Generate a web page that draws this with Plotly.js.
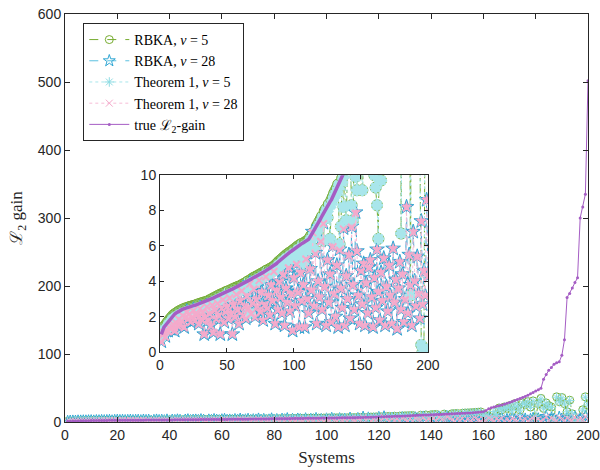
<!DOCTYPE html>
<html>
<head>
<meta charset="utf-8">
<script src="https://cdn.plot.ly/plotly-3.0.1.min.js"></script>
<style>html,body{margin:0;padding:0;background:#fff;}#chart{width:600px;height:470px;}</style>
</head>
<body>
<div id="chart"></div>
<script>
// Systems index 1..200
const systems = Array.from({length: 200}, (_, i) => i + 1);

// true L2-gain
const trueGain = [
1.0,1.25,1.4,1.5,1.6,1.72,1.82,1.92,2.0,2.1,
2.15,2.2,2.26,2.3,2.35,2.38,2.42,2.45,2.48,2.5,
2.53,2.56,2.58,2.6,2.62,2.64,2.67,2.7,2.72,2.75,
2.77,2.8,2.82,2.84,2.86,2.9,2.94,2.98,3.02,3.06,
3.1,3.14,3.18,3.22,3.26,3.29,3.32,3.36,3.4,3.43,
3.46,3.5,3.53,3.56,3.6,3.63,3.66,3.7,3.72,3.75,
3.8,3.84,3.88,3.93,3.98,4.03,4.08,4.12,4.17,4.22,
4.25,4.29,4.33,4.38,4.42,4.46,4.5,4.55,4.6,4.64,
4.68,4.72,4.76,4.8,4.85,4.92,5.0,5.08,5.15,5.22,
5.28,5.35,5.42,5.48,5.55,5.6,5.65,5.7,5.76,5.82,
5.88,5.94,6.0,6.05,6.1,6.14,6.18,6.22,6.26,6.3,
6.38,6.5,6.62,6.75,6.88,7.0,7.12,7.25,7.4,7.55,
7.7,7.85,8.0,8.12,8.25,8.38,8.5,8.62,8.8,9.0,
9.15,9.3,9.5,9.7,9.85,10.0,10.15,10.3,10.45,10.6,
10.75,10.9,11.05,11.2,11.4,11.6,11.8,12.0,12.2,12.4,
12.6,12.8,13.0,13.2,13.4,13.6,13.9,14.2,14.6,15.0,
17.0,19.5,21.0,22.0,23.0,24.0,25.0,26.2,27.5,28.8,
30.0,31.5,33.0,34.5,36.0,37.5,39.5,41.5,43.5,45.5,
47.5,49.5,63,70,76,80,85,87,88.5,98,
121,183,189,197,205,212,300,316,335,502];

// RBKA, nu = 5
const rbka5 = [
1.0,1.22,1.38,1.5,1.6,1.7,1.8,1.9,1.98,2.08,
2.13,2.18,2.24,2.28,2.33,2.36,2.4,2.43,2.46,2.48,
2.51,2.54,2.56,2.58,2.6,2.62,2.65,2.68,2.7,2.73,
2.75,2.78,2.8,2.82,2.84,2.88,2.92,2.96,3.0,3.04,
3.08,3.12,3.16,3.2,3.24,3.27,3.3,3.34,3.38,3.41,
3.44,3.15,3.51,3.54,3.58,3.61,3.64,3.68,3.7,3.73,
3.78,3.82,3.86,3.91,3.96,4.01,2.2,4.1,4.15,4.2,
4.23,4.27,4.31,4.36,4.4,4.44,4.48,4.53,4.58,4.62,
4.55,4.7,4.74,4.78,4.83,4.9,4.98,5.06,5.13,5.2,
5.26,5.33,5.4,5.46,5.53,5.58,5.63,5.68,5.74,5.8,
5.86,5.92,5.98,6.03,6.08,6.12,5.0,6.2,6.24,6.28,
6.36,6.48,6.6,6.73,5.85,6.8,7.1,7.23,7.38,7.53,
7.68,6.3,7.98,8.1,7.6,8.36,6.4,8.6,8.78,8.98,
9.13,9.28,9.48,6.1,7.1,9.83,8.2,10.28,7.45,10.58,
10.85,11.0,8.3,7.45,11.5,9.9,9.15,12.1,12.3,12.5,
9.15,12.9,13.1,13.3,13.5,13.7,14.0,14.3,14.7,10.0,
9.3,8.3,6.4,16.0,9.7,20.5,18.0,22.0,20.0,24.0,
17.0,27.0,23.0,18.0,28.0,26.0,30.0,22.0,31.0,6.7,
27.0,34.7,20.0,28.0,24.0,22.0,3.2,37.0,30.0,36.0,
27.0,15.0,32.0,12.0,0.4,0.0,0.2,18.0,37.0,25.0];

// RBKA, nu = 28
const rbka28 = [
0.6,1.0,1.1,0.9,1.3,1.2,1.4,1.3,1.5,1.6,
1.2,1.7,1.5,1.9,1.6,1.8,2.1,1.4,2.0,2.3,
1.9,2.2,1.7,2.0,2.4,1.8,2.1,2.2,1.6,2.5,
1.9,2.3,1.0,2.0,2.6,1.8,2.2,1.5,2.7,1.1,
2.4,1.9,2.8,2.1,1.0,2.5,3.0,1.7,2.3,2.6,
1.9,3.1,2.2,1.0,2.7,2.0,3.3,2.4,1.6,2.9,
3.5,2.1,2.6,1.9,3.2,2.5,3.9,2.2,2.8,3.6,
2.0,3.0,2.6,4.1,2.3,3.4,1.8,2.7,4.3,2.5,
3.2,2.1,3.8,2.9,4.6,1.6,3.5,2.4,4.0,3.1,
2.2,4.4,1.5,3.6,2.8,4.8,2.3,3.3,1.2,4.2,
2.6,5.0,3.4,1.4,4.5,2.9,3.8,1.4,5.3,3.0,
2.2,4.7,3.5,6.8,2.6,5.6,1.6,4.0,3.1,6.3,
2.4,7.3,3.7,1.5,5.2,2.8,4.4,1.7,6.0,3.3,
2.0,4.9,1.4,5.8,3.6,2.5,7.0,1.5,4.3,3.0,
5.5,1.9,7.1,3.8,2.4,7.9,5.7,3.2,1.6,4.6,
2.7,5.0,1.5,3.9,2.2,4.8,5.2,3.1,1.4,4.2,
2.5,5.8,3.4,1.8,4.5,2.9,5.3,1.5,3.7,2.3,
4.9,3.2,1.6,5.85,2.8,4.1,1.3,3.6,5.1,2.4,
4.4,1.7,3.0,8.2,2.2,5.5,3.8,1.5,6.8,4.0,
2.6,5.4,3.3,1.9,7.4,2.7,4.6,3.2,8.6,4.3];

// Theorem 1, nu = 5
const thm5 = [
0.85,1.0,1.15,1.25,1.35,1.47,1.57,1.67,1.75,1.85,
1.9,1.95,2.01,2.05,2.1,2.13,2.17,2.2,2.23,2.25,
2.28,2.31,2.33,2.35,2.37,2.39,2.42,2.45,2.47,2.5,
2.52,2.55,2.57,2.59,2.61,2.65,2.69,2.73,2.77,2.81,
2.85,2.89,2.93,2.97,3.01,3.04,3.07,3.11,3.15,3.18,
3.21,3.15,3.28,3.31,3.35,3.38,3.41,3.45,3.47,3.5,
3.55,3.59,3.63,3.68,3.73,3.78,2.2,3.87,3.92,3.97,
4.0,4.04,4.08,4.13,4.17,4.21,4.25,4.3,4.35,4.39,
4.43,4.47,4.51,4.55,4.6,4.67,4.75,4.83,4.9,4.97,
5.03,5.1,5.17,5.23,5.3,5.2,5.4,5.45,5.3,5.57,
5.6,5.5,5.75,5.8,5.6,5.89,5.0,5.97,5.7,6.05,
6.13,6.25,6.37,6.5,5.85,6.75,6.87,7.0,7.15,7.3,
7.45,6.3,7.75,7.87,7.6,8.13,6.4,8.37,8.55,8.75,
8.9,9.05,9.25,6.1,7.1,9.6,8.2,10.05,7.45,10.35,
10.5,10.65,8.3,7.45,11.15,9.9,9.15,11.75,11.95,12.15,
9.15,12.55,12.75,12.95,13.15,13.35,13.65,13.95,14.35,10.0,
9.3,8.3,6.4,15.5,9.7,20.0,17.5,21.5,19.5,23.5,
16.5,26.5,22.5,17.5,27.5,25.5,29.5,21.5,30.5,6.7,
26.5,34.0,19.5,27.5,23.5,21.5,3.2,36.5,29.5,35.5,
26.5,15.0,31.5,11.5,0.4,0.0,0.2,17.5,36.5,25.0];

// Theorem 1, nu = 28
const thm28 = [
0.55,0.95,1.1,0.85,1.25,1.15,1.35,1.3,1.45,1.55,
1.2,1.65,1.5,1.85,1.55,1.75,2.05,1.4,1.95,2.25,
1.85,2.15,1.7,1.95,2.35,1.75,2.05,2.15,1.55,2.45,
1.85,2.25,1.0,1.95,2.55,1.75,2.15,1.45,2.65,1.1,
2.35,1.85,2.75,2.05,1.0,2.45,2.95,1.65,2.25,2.55,
1.85,3.05,2.15,1.0,2.65,1.95,3.25,2.35,1.55,2.85,
3.45,2.05,2.55,1.85,3.15,2.45,3.85,2.15,2.75,3.55,
1.95,2.95,2.55,4.05,2.25,3.35,1.75,2.65,4.25,2.45,
3.15,2.05,3.75,2.85,4.55,1.55,3.45,2.35,3.95,3.05,
2.15,4.35,1.45,3.55,2.75,4.75,2.25,3.25,1.2,4.15,
2.55,4.95,3.35,1.4,4.45,2.85,3.75,1.4,5.25,2.95,
2.15,4.65,3.45,6.75,2.55,5.55,1.55,3.95,3.05,6.25,
2.35,7.25,3.65,1.45,5.15,2.75,4.35,1.65,5.95,3.25,
1.95,4.85,1.4,5.75,3.55,2.45,6.95,1.45,4.25,2.95,
5.45,1.85,7.05,3.75,2.35,7.85,5.65,3.15,1.55,4.55,
2.65,4.95,1.45,3.85,2.15,4.75,5.15,3.05,1.4,4.15,
2.45,5.75,3.35,1.75,4.45,2.85,5.25,1.45,3.65,2.25,
4.85,3.15,1.55,5.8,2.75,4.05,1.3,3.55,5.05,2.35,
4.35,1.65,2.95,8.15,2.15,5.45,3.75,1.45,6.75,3.95,
2.55,5.35,3.25,1.85,7.35,2.65,4.55,3.15,8.55,4.25];

const names = ['RBKA, <i>ν</i> = 5', 'RBKA, <i>ν</i> = 28', 'Theorem 1, <i>ν</i> = 5', 'Theorem 1, <i>ν</i> = 28', 'true ℒ<sub>2</sub>-gain'];

const GREEN = '#77AC30', BLUE = '#2FA6D3', BLUEL = '#5BC0E0', CYAN = '#8EDCE3', CYANL = '#A9E6EB', PINK = '#F4AACB', PINKL = '#F7BCD6', PURPLE = '#A55DC4';

const traces = [
  // main axes
  {x: systems, y: rbka5, name: names[0], mode: 'lines+markers', line: {color: GREEN, dash: 'dash', width: 1}, marker: {symbol: 'circle-open', size: 8, color: GREEN, line: {width: 1}}},
  {x: systems, y: rbka28, name: names[1], mode: 'lines+markers', line: {color: BLUEL, dash: 'dash', width: 1}, marker: {symbol: 'star-open', size: 9, color: BLUE, line: {width: 1}}},
  {x: systems, y: thm5, name: names[2], mode: 'lines+markers', line: {color: CYANL, dash: 'dot', width: 1}, marker: {symbol: 'asterisk-open', size: 8, color: CYAN, line: {width: 1}}},
  {x: systems, y: thm28, name: names[3], mode: 'lines+markers', line: {color: PINKL, dash: 'dot', width: 1}, marker: {symbol: 'x-thin-open', size: 7, color: PINK, line: {width: 1}}},
  {x: systems, y: trueGain, name: names[4], mode: 'lines+markers', line: {color: PURPLE, width: 1}, marker: {symbol: 'circle', size: 3, color: PURPLE}},
  // inset
  {x: systems, y: rbka5, xaxis: 'x2', yaxis: 'y2', showlegend: false, mode: 'lines+markers', line: {color: GREEN, dash: 'dashdot', width: 1}, marker: {symbol: 'circle', size: 11, color: CYANL, line: {color: GREEN, width: 1}}},
  {x: systems, y: rbka28, xaxis: 'x2', yaxis: 'y2', showlegend: false, mode: 'lines+markers', line: {color: BLUE, dash: 'dash', width: 1}, marker: {symbol: 'star', size: 11, color: PINK, line: {color: BLUE, width: 1}}},
  {x: systems, y: thm5, xaxis: 'x2', yaxis: 'y2', showlegend: false, mode: 'lines+markers', line: {color: CYANL, dash: 'dot', width: 1}, marker: {symbol: 'asterisk-open', size: 10, color: CYANL, line: {width: 3}}},
  {x: systems, y: thm28, xaxis: 'x2', yaxis: 'y2', showlegend: false, mode: 'lines+markers', line: {color: PINKL, dash: 'dot', width: 1}, marker: {symbol: 'x-thin-open', size: 7, color: PINK, line: {width: 2}}},
  {x: systems, y: trueGain, xaxis: 'x2', yaxis: 'y2', showlegend: false, mode: 'lines', line: {color: PURPLE, width: 3.5}}
];

const axCol = '#262626';
const tickFont = {family: 'Liberation Sans, Arial, sans-serif', size: 14, color: axCol};
const layout = {
  width: 600, height: 470,
  margin: {l: 65, r: 12, t: 14, b: 48},
  paper_bgcolor: '#fff', plot_bgcolor: '#fff',
  showlegend: true,
  xaxis: {range: [0, 200], dtick: 20, tick0: 0, ticks: 'inside', ticklen: 5, tickcolor: axCol, showline: true, linecolor: axCol, linewidth: 1, mirror: 'ticks', showgrid: false, zeroline: false, tickfont: tickFont, domain: [0, 1],
    title: {text: 'Systems', font: {family: 'Liberation Serif, serif', size: 17, color: axCol}, standoff: 9}},
  yaxis: {range: [0, 600], dtick: 100, tick0: 0, ticks: 'inside', ticklen: 5, tickcolor: axCol, showline: true, linecolor: axCol, linewidth: 1, mirror: 'ticks', showgrid: false, zeroline: false, tickfont: tickFont, domain: [0, 1],
    title: {text: 'ℒ<sub>2</sub> gain', font: {family: 'Liberation Serif, serif', size: 17, color: axCol}, standoff: 10}},
  xaxis2: {anchor: 'y2', domain: [0.1816, 0.694], range: [0, 200], dtick: 50, tick0: 0, ticks: 'inside', ticklen: 4, tickcolor: axCol, showline: true, linecolor: axCol, linewidth: 1, mirror: 'ticks', showgrid: false, zeroline: false, tickfont: tickFont},
  yaxis2: {anchor: 'x2', domain: [0.1716, 0.605], range: [0, 10], dtick: 2, tick0: 0, ticks: 'inside', ticklen: 4, tickcolor: axCol, showline: true, linecolor: axCol, linewidth: 1, mirror: 'ticks', showgrid: false, zeroline: false, tickfont: tickFont},
  legend: {x: 0.035, y: 0.978, xanchor: 'left', yanchor: 'top', bgcolor: '#fff', bordercolor: axCol, borderwidth: 1, font: {family: 'Liberation Serif, serif', size: 14, color: '#000'}, tracegroupgap: 0, itemwidth: 40}
};

Plotly.newPlot('chart', traces, layout, {staticPlot: true, displayModeBar: false});
</script>
</body>
</html>
